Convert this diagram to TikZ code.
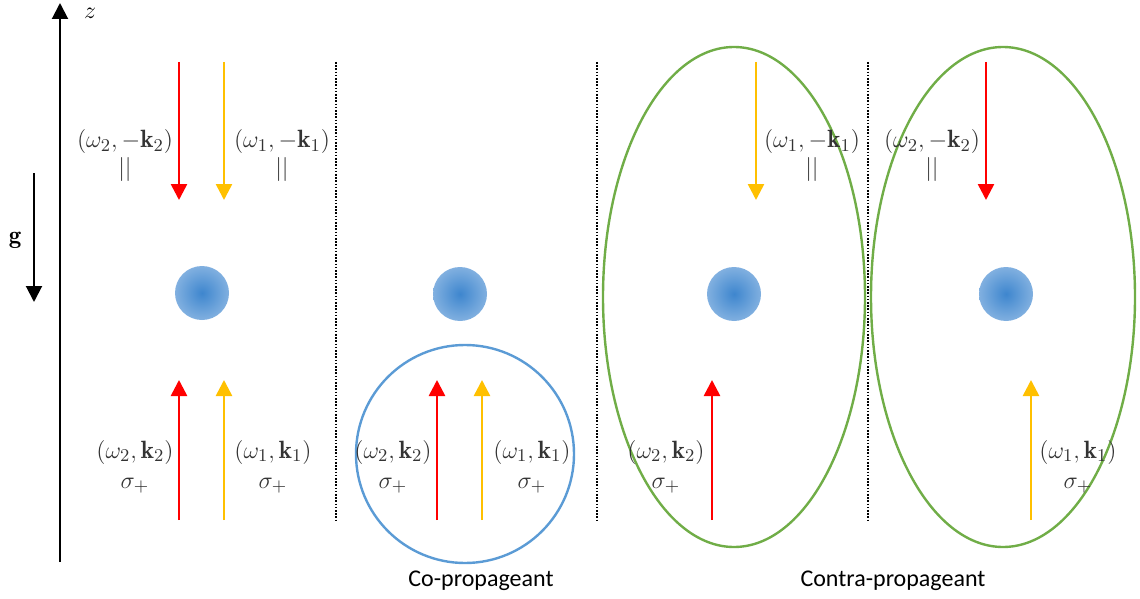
\documentclass[tikz,border=0pt]{standalone}
\usepackage{fontspec}
\setsansfont{Carlito}
\usetikzlibrary{arrows.meta}

\definecolor{rouge}{RGB}{255,0,0}
\definecolor{jaune}{RGB}{255,192,0}
\definecolor{vert}{RGB}{112,173,71}
\definecolor{bleu}{RGB}{91,155,213}
\definecolor{boulein}{RGB}{62,134,206}
\definecolor{bouleout}{RGB}{196,218,242}
\pgfdeclareradialshading{boule}{\pgfpoint{0bp}{0bp}}{%
  color(0bp)=(boulein); color(50bp)=(bouleout)}

\tikzset{
  faisceau/.style={line width=1.3pt, -{Triangle[width=8pt,length=8pt]}},
  etiq/.style={font=\fontsize{12.5}{15}\selectfont, text=black!80,
    align=center, inner sep=0pt},
  atome/.style={circle, minimum size=27pt, inner sep=0pt, shading=boule},
  sep/.style={line width=1.2pt, dash pattern=on 0.8pt off 0.8pt},
}

\begin{document}
\begin{tikzpicture}[x=0.5pt,y=-0.5pt,>={Triangle[width=8pt,length=8pt]}]
    \useasboundingbox (0,0) rectangle (1140,599);

    % Axe z
    \coordinate (zbas) at (60,562);
    \coordinate (zhaut) at (60,3);
    \draw[->, line width=1pt] (zbas) -- (zhaut);
    \node[font=\fontsize{12.5}{15}\selectfont] (zlab) at (90,13) {$z$};

    % Gravite
    \coordinate (ghaut) at (34,173);
    \coordinate (gbas) at (34,302);
    \draw[->, line width=1pt] (ghaut) -- (gbas);
    \node[font=\fontsize{12.5}{15}\selectfont] (glab) at (15,240)
        {$\mathbf{g}$};

    % Separations
    \foreach \x [count=\i] in {336,597,868}{
        \coordinate (sh\i) at (\x,62);
        \coordinate (sb\i) at (\x,520);
        \draw[sep] (sh\i) -- (sb\i);
    }

    % Zones d'interaction
    \draw[bleu, line width=1.2pt] (465,454) circle (109);
    \draw[vert, line width=1.2pt] (734,297)
        ellipse [x radius=131, y radius=250];
    \draw[vert, line width=1.2pt] (1003,297)
        ellipse [x radius=132, y radius=250];

    % Atomes
    \foreach \x/\y [count=\i] in {202/293, 460/294, 734/294, 1006/294}{
        \node[atome] (at\i) at (\x,\y) {};
    }

    % Faisceaux descendants
    \foreach \x/\c [count=\i] in {179/rouge, 224/jaune, 756/jaune, 986/rouge}{
        \coordinate (dd\i) at (\x,62);
        \coordinate (df\i) at (\x,200);
        \draw[faisceau, \c] (dd\i) -- (df\i);
    }

    % Faisceaux montants
    \foreach \x/\c [count=\i] in {179/rouge, 224/jaune, 437/rouge,
            482/jaune, 712/rouge, 1031/jaune}{
        \coordinate (md\i) at (\x,520);
        \coordinate (mf\i) at (\x,380);
        \draw[faisceau, \c] (md\i) -- (mf\i);
    }

    % Etiquettes des faisceaux descendants
    \foreach \x/\n [count=\i] in {125/2, 282/1, 812/1, 932/2}{
        \node[etiq] (ld\i) at (\x,156)
            {$(\omega_\n,-\mathbf{k}_\n)$\\[-1pt]$||$};
    }

    % Etiquettes des faisceaux montants
    \foreach \x/\n [count=\i] in {135/2, 273/1, 393/2, 532/1, 666/2, 1078/1}{
        \node[etiq] (lm\i) at (\x,467)
            {$(\omega_\n,\mathbf{k}_\n)$\\$\sigma_+$};
    }

    % Configurations
    \node[font=\sffamily\fontsize{12}{14}\selectfont] (copro)
        at (481,581) {Co-propageant};
    \node[font=\sffamily\fontsize{12}{14}\selectfont] (contrapro)
        at (893,581) {Contra-propageant};

\end{tikzpicture}
\end{document}
